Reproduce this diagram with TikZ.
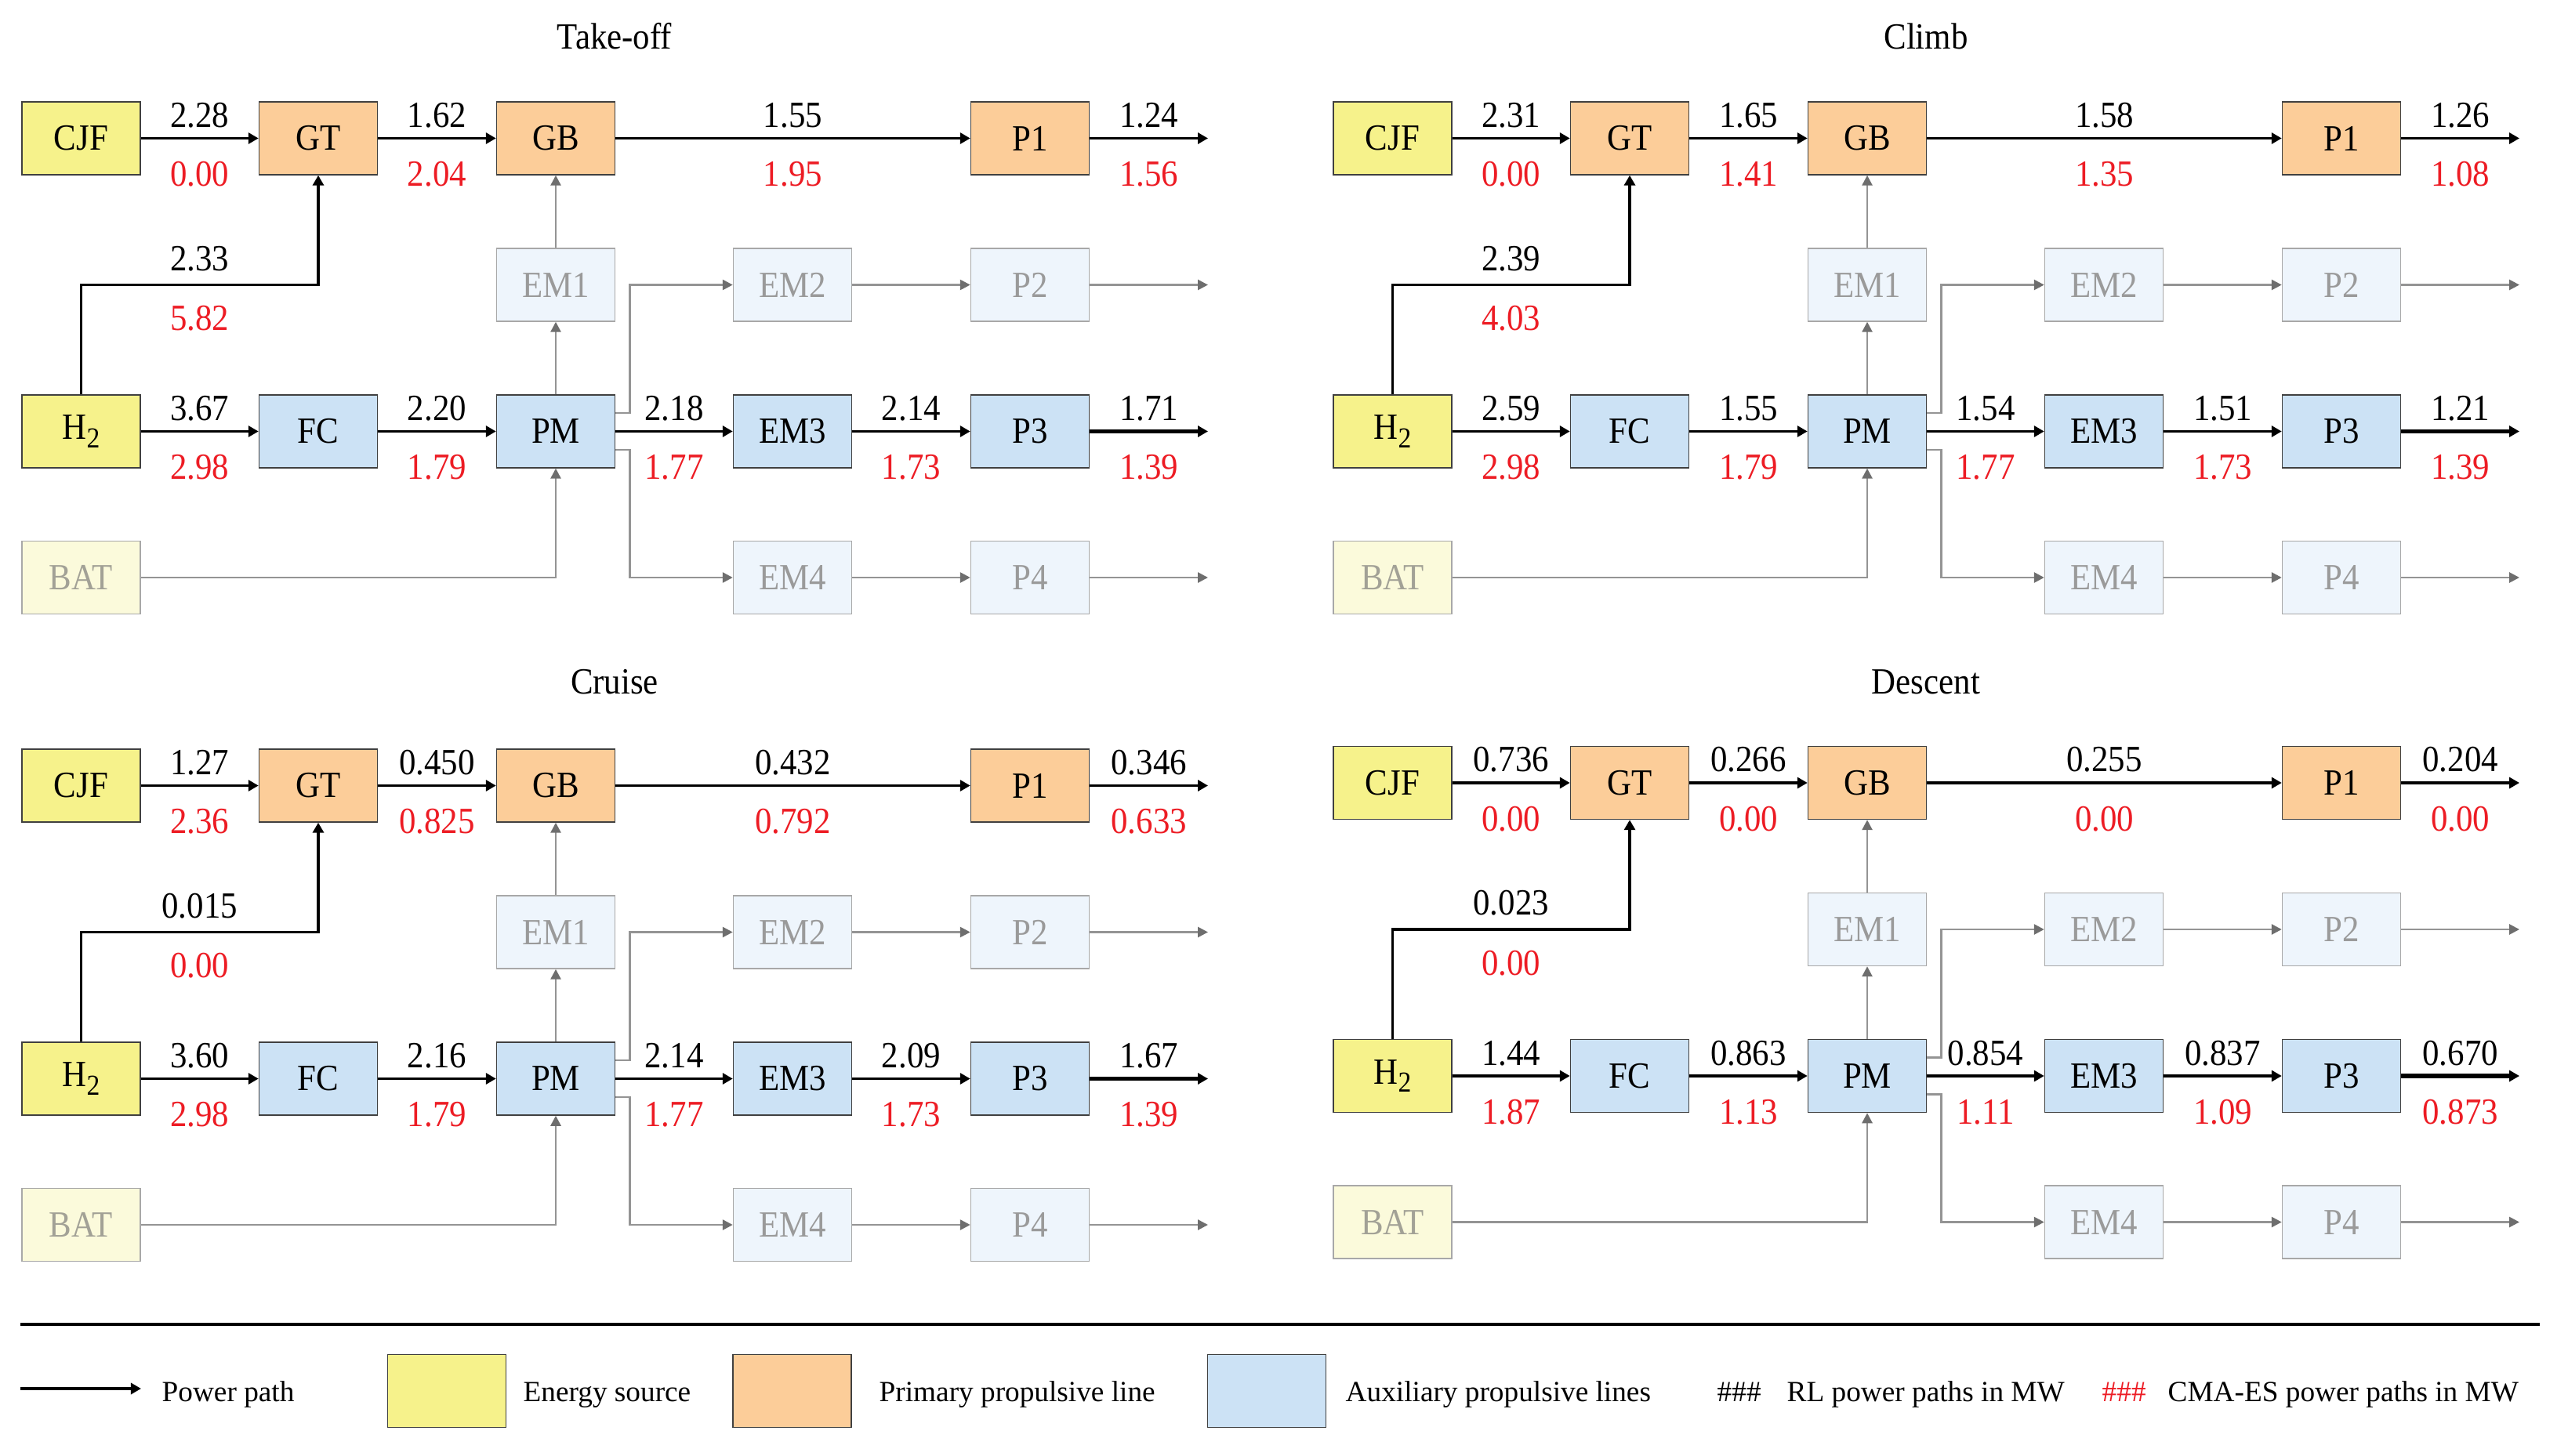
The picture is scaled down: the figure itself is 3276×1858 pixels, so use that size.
\documentclass[tikz,border=0pt]{standalone}
\usepackage{fontspec}
\setmainfont{Liberation Serif}
\newfontfamily\diagfont{Liberation Serif}[FakeStretch=0.91]
\usetikzlibrary{arrows.meta,calc}
\definecolor{cyel}{HTML}{F6F28B}
\definecolor{corg}{HTML}{FCCD99}
\definecolor{cblu}{HTML}{CCE2F5}
\definecolor{cfyel}{HTML}{FBFADB}
\definecolor{cfblu}{HTML}{EEF5FC}
\definecolor{cred}{HTML}{ED1C24}
\definecolor{cgline}{HTML}{949494}
\definecolor{cghead}{HTML}{6E6E6E}
\definecolor{cbord}{HTML}{404040}
\definecolor{cfbord}{HTML}{A8A8A8}
\definecolor{cftext}{HTML}{9A9A9A}
\definecolor{cbat}{HTML}{A2A196}
\newcommand\dfs{\diagfont\fontsize{13.4}{16}\selectfont}
\newcommand\lfs{\fontsize{10.6}{13}\selectfont}
\newcommand\htwo{H\raisebox{-0.23em}{\fontsize{10.5}{12}\selectfont 2}}
\tikzset{
  box/.style={draw=cbord, line width=0.4pt, minimum width=1.51cm, minimum height=0.93cm, inner sep=0pt, font=\dfs},
  ybox/.style={box, fill=cyel},
  obox/.style={box, fill=corg},
  bbox/.style={box, fill=cblu},
  fbox/.style={box, draw=cfbord, fill=cfblu, text=cftext},
  fybox/.style={box, draw=cfbord, fill=cfyel, text=cbat},
  pw/.style={draw=black, line width=1.1pt, -{Triangle[length=0.13cm,width=0.14cm]}},
  gw/.style={draw=cgline, line width=0.75pt, -{Triangle[length=0.13cm,width=0.13cm,color=cghead,fill=cghead]}},
  bl/.style={font=\dfs, anchor=base, inner sep=0pt},
  rl/.style={bl, text=cred},
  ttl/.style={font=\dfs, anchor=base, inner sep=0pt},
  lt/.style={font=\lfs, anchor=base west, inner sep=0pt},
}
\newcommand\lbl[4]{\path ($(#1)!0.5!(#2)$) node[bl,yshift=0.14cm]{#3} node[rl,yshift=-0.61cm]{#4};}
\newcommand\lblk[4]{\path ($(#1)!0.5!(#2)$) node[bl,yshift=0.18cm]{#3} node[rl,yshift=-0.58cm]{#4};}
\newcommand\mypanel[5]{%
  \node[ybox] (#1CJF) at ({103.5+#2},{176.5+#3}) {CJF};
  \node[obox] (#1GT) at ({406+#2},{176.5+#3}) {GT};
  \node[obox] (#1GB) at ({709+#2},{176.5+#3}) {GB};
  \node[obox] (#1P1) at ({1314+#2},{176.5+#3}) {P1};
  \node[fbox] (#1EM1) at ({709+#2},{363.5+#3}) {EM1};
  \node[fbox] (#1EM2) at ({1011+#2},{363.5+#3}) {EM2};
  \node[fbox] (#1P2) at ({1314+#2},{363.5+#3}) {P2};
  \node[ybox] (#1H2) at ({103.5+#2},{550.5+#3}) {\htwo};
  \node[bbox] (#1FC) at ({406+#2},{550.5+#3}) {FC};
  \node[bbox] (#1PM) at ({709+#2},{550.5+#3}) {PM};
  \node[bbox] (#1EM3) at ({1011+#2},{550.5+#3}) {EM3};
  \node[bbox] (#1P3) at ({1314+#2},{550.5+#3}) {P3};
  \node[fybox] (#1BAT) at ({103.5+#2},{737+#3}) {BAT};
  \node[fbox] (#1EM4) at ({1011+#2},{737+#3}) {EM4};
  \node[fbox] (#1P4) at ({1314+#2},{737+#3}) {P4};
  \coordinate (#1o1) at ({1541+#2},{176.5+#3});
  \coordinate (#1o2) at ({1541+#2},{363.5+#3});
  \coordinate (#1o3) at ({1541+#2},{550.5+#3});
  \coordinate (#1o4) at ({1541+#2},{737+#3});
  \node[ttl] (#1title) at ({784+#2},{#5}) {#4};
  % grey connectors
  \draw[gw] (#1EM1) -- (#1GB);
  \draw[gw] (#1PM) -- (#1EM1);
  \draw[gw] (#1BAT.east) -| (#1PM.south);
  \draw[gw] ([yshift=0.235cm]#1PM.east) -- ++(18,0) |- (#1EM2.west);
  \draw[gw] ([yshift=-0.235cm]#1PM.east) -- ++(18,0) |- (#1EM4.west);
  \draw[gw] (#1EM2) -- (#1P2);
  \draw[gw] (#1P2) -- (#1o2);
  \draw[gw] (#1EM4) -- (#1P4);
  \draw[gw] (#1P4) -- (#1o4);
  % power connectors
  \draw[pw] (#1CJF) -- (#1GT);
  \draw[pw] (#1GT) -- (#1GB);
  \draw[pw] (#1GB) -- (#1P1);
  \draw[pw, line width=0.95pt] (#1P1) -- (#1o1);
  \coordinate (#1k1) at (#1H2.north |- #1EM1.center);
  \coordinate (#1k2) at (#1GT.south |- #1EM1.center);
  \draw[pw] (#1H2) -- (#1k1) -- (#1k2) -- (#1GT);
  \draw[pw] (#1H2) -- (#1FC);
  \draw[pw] (#1FC) -- (#1PM);
  \draw[pw] (#1PM) -- (#1EM3);
  \draw[pw] (#1EM3) -- (#1P3);
  \draw[pw, line width=1.5pt] (#1P3) -- (#1o3);
}
\begin{document}
\begin{tikzpicture}[x=0.01cm, y=-0.01cm]
\useasboundingbox (0,0) rectangle (3276,1858);
\fill[white] (0,0) rectangle (3276,1858);

% Take-off
\mypanel{A}{0}{0}{Take-off}{63}
\lbl{ACJF.east}{AGT.west}{2.28}{0.00}
\lbl{AGT.east}{AGB.west}{1.62}{2.04}
\lbl{AGB.east}{AP1.west}{1.55}{1.95}
\lbl{AP1.east}{Ao1}{1.24}{1.56}
\lblk{Ak1}{Ak2}{2.33}{5.82}
\lbl{AH2.east}{AFC.west}{3.67}{2.98}
\lbl{AFC.east}{APM.west}{2.20}{1.79}
\lbl{APM.east}{AEM3.west}{2.18}{1.77}
\lbl{AEM3.east}{AP3.west}{2.14}{1.73}
\lbl{AP3.east}{Ao3}{1.71}{1.39}

% Climb
\mypanel{B}{1673}{0}{Climb}{63}
\lbl{BCJF.east}{BGT.west}{2.31}{0.00}
\lbl{BGT.east}{BGB.west}{1.65}{1.41}
\lbl{BGB.east}{BP1.west}{1.58}{1.35}
\lbl{BP1.east}{Bo1}{1.26}{1.08}
\lblk{Bk1}{Bk2}{2.39}{4.03}
\lbl{BH2.east}{BFC.west}{2.59}{2.98}
\lbl{BFC.east}{BPM.west}{1.55}{1.79}
\lbl{BPM.east}{BEM3.west}{1.54}{1.77}
\lbl{BEM3.east}{BP3.west}{1.51}{1.73}
\lbl{BP3.east}{Bo3}{1.21}{1.39}

% Cruise
\mypanel{C}{0}{826}{Cruise}{885}
\lbl{CCJF.east}{CGT.west}{1.27}{2.36}
\lbl{CGT.east}{CGB.west}{0.450}{0.825}
\lbl{CGB.east}{CP1.west}{0.432}{0.792}
\lbl{CP1.east}{Co1}{0.346}{0.633}
\lblk{Ck1}{Ck2}{0.015}{0.00}
\lbl{CH2.east}{CFC.west}{3.60}{2.98}
\lbl{CFC.east}{CPM.west}{2.16}{1.79}
\lbl{CPM.east}{CEM3.west}{2.14}{1.77}
\lbl{CEM3.east}{CP3.west}{2.09}{1.73}
\lbl{CP3.east}{Co3}{1.67}{1.39}

% Descent
\mypanel{D}{1673}{822.5}{Descent}{885}
\lbl{DCJF.east}{DGT.west}{0.736}{0.00}
\lbl{DGT.east}{DGB.west}{0.266}{0.00}
\lbl{DGB.east}{DP1.west}{0.255}{0.00}
\lbl{DP1.east}{Do1}{0.204}{0.00}
\lblk{Dk1}{Dk2}{0.023}{0.00}
\lbl{DH2.east}{DFC.west}{1.44}{1.87}
\lbl{DFC.east}{DPM.west}{0.863}{1.13}
\lbl{DPM.east}{DEM3.west}{0.854}{1.11}
\lbl{DEM3.east}{DP3.west}{0.837}{1.09}
\lbl{DP3.east}{Do3}{0.670}{0.873}

% Legend
\coordinate (sepL) at (26,1690);
\coordinate (sepR) at (3240,1690);
\draw[line width=1.15pt] (sepL) -- (sepR);
\coordinate (lgA) at (26,1772);
\coordinate (lgB) at (180,1772);
\draw[pw, line width=1.2pt] (lgA) -- (lgB);
\node[lt] (lgT1) at (206,1788) {Power path};
\node[box, fill=cyel] (lgY) at (570,1775) {};
\node[lt] (lgT2) at (667,1788) {Energy source};
\node[box, fill=corg] (lgO) at (1010.5,1775) {};
\node[lt] (lgT3) at (1121,1788) {Primary propulsive line};
\node[box, fill=cblu] (lgBl) at (1616,1775) {};
\node[lt] (lgT4) at (1716,1788) {Auxiliary propulsive lines};
\node[lt] (lgH1) at (2190,1788) {\#\#\#};
\node[lt] (lgT5) at (2279,1788) {RL power paths in MW};
\node[lt, text=cred] (lgH2) at (2681,1788) {\#\#\#};
\node[lt] (lgT6) at (2765,1788) {CMA-ES power paths in MW};
\end{tikzpicture}
\end{document}
